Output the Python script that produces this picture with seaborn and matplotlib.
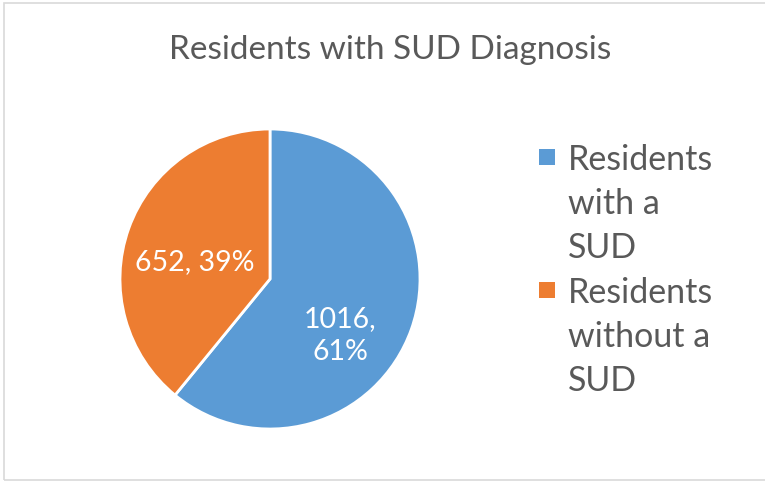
import matplotlib
matplotlib.use("Agg")
import matplotlib.pyplot as plt
from matplotlib.patches import Rectangle
import seaborn as sns

categories = ["Residents with a SUD", "Residents without a SUD"]
legend_lines = [["Residents", "with a", "SUD"], ["Residents", "without a", "SUD"]]
counts = [1016, 652]
colors = ["#5B9BD5", "#ED7D31"]
title = "Residents with SUD Diagnosis"

sns.set_theme(style="white")
plt.rcParams["font.family"] = ["Lato", "DejaVu Sans"]
TXT = "#595959"
W, H = 765, 485

fig = plt.figure(figsize=(W / 100, H / 100), dpi=100)
fig.patches.append(Rectangle((4 / W, 4 / H), 1.0, 477 / H, transform=fig.transFigure,
                             fill=False, edgecolor="#D9D9D9", linewidth=1.2))

# pie axes: centre ~ (270, 280) px, radius ~150 px
ax = fig.add_axes([120 / W, 55 / H, 300 / W, 300 / H])
total = sum(counts)
wedges, _ = ax.pie(
    counts, colors=colors, startangle=90, counterclock=False,
    wedgeprops=dict(edgecolor="white", linewidth=2),
)
ax.set_aspect("equal")
ax.set_xlim(-1, 1)
ax.set_ylim(-1, 1)
ax.axis("off")

label_pos = [(0.47, -0.37), (-0.5, 0.12)]
for (x, y), n in zip(label_pos, counts):
    pct = round(100 * n / total)
    txt = f"{n},\n{pct}%" if n > 1000 else f"{n}, {pct}%"
    ax.text(x, y, txt, ha="center", va="center", color="white", fontsize=20.5,
            linespacing=1.3)

fig.text(390 / W, 1 - 50 / H, title, ha="center", va="center", fontsize=24, color=TXT)

# legend drawn by hand so the marker sits on the first line of a wrapped label
pitch = 44
for i, (lines, c) in enumerate(zip(legend_lines, colors)):
    base0 = 170 + i * 133
    fig.patches.append(Rectangle((539 / W, 1 - (base0 - 4) / H), 16 / W, 16 / H,
                                 transform=fig.transFigure, facecolor=c, edgecolor="none"))
    for k, line in enumerate(lines):
        fig.text(568 / W, 1 - (base0 + k * pitch) / H, line, ha="left", va="baseline",
                 fontsize=24.5, color=TXT)

fig.savefig("out.png", dpi=100)
